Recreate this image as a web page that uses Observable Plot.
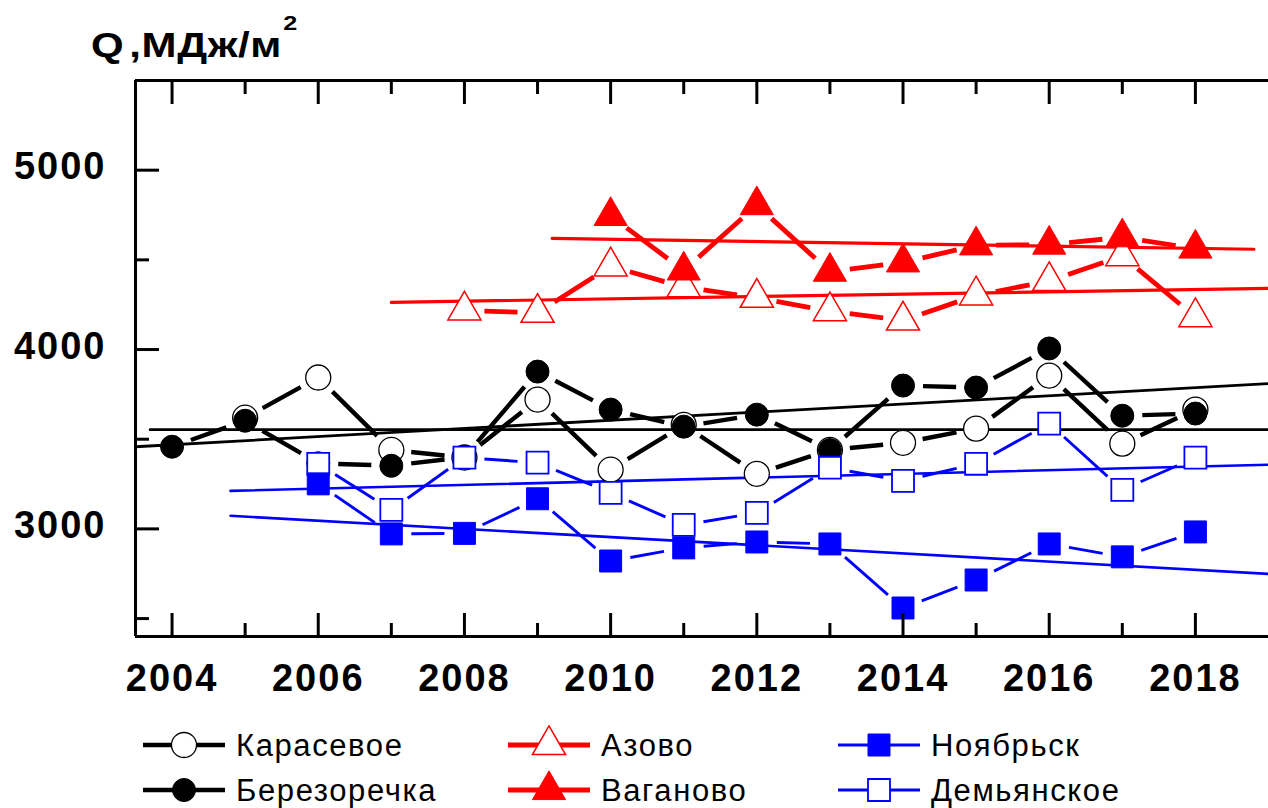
<!DOCTYPE html>
<html>
<head>
<meta charset="utf-8">
<script src="https://cdn.jsdelivr.net/npm/d3@7"></script>
<script src="https://cdn.jsdelivr.net/npm/@observablehq/plot@0.6"></script>
<style>
  html, body { margin: 0; padding: 0; background: #fff; }
  #wrap { width: 1268px; height: 808px; overflow: hidden; font-family: "Liberation Sans", Arial, sans-serif; color: #000; }
  #title { position: relative; height: 75px; }
  #title .t { position: absolute; left: 91px; top: 25px; font-size: 35px; font-weight: bold; line-height: normal;
              transform: scaleX(1.2); transform-origin: left center; white-space: nowrap; letter-spacing: 0.5px; word-spacing: -6px; }
  #title .t .sup { font-size: 21px; position: relative; top: -27px; margin-left: 1px; }
  #plot { height: 631px; }
  #plot svg { display: block; }
  #legend { position: relative; height: 102px; }
  #legend .item { position: absolute; display: flex; align-items: center; height: 40px; }
  #legend .item svg { display: block; }
  #legend .item span { font-size: 31px; letter-spacing: 1.6px; margin-left: 11px; white-space: nowrap; line-height: 1; }
</style>
</head>
<body>
<div id="wrap">
  <div id="title"><div class="t">Q ,МДж/м<span class="sup">2</span></div></div>
  <div id="plot"></div>
  <div id="legend"></div>
</div>
<script>
// ---------------- data ----------------
const karasevoeYears  = [2005,2006,2007,2008,2009,2010,2011,2012,2013,2014,2015,2016,2017,2018];
const karasevoeValues = [3620,3844,3440,3398,3721,3330,3580,3307,3440,3480,3559,3855,3475,3665];

const berezYears  = [2004,2005,2006,2007,2008,2009,2010,2011,2012,2013,2014,2015,2016,2017,2018];
const berezValues = [3458,3603,3366,3352,3400,3877,3665,3570,3637,3440,3799,3788,4006,3631,3643];

const azovoYears  = [2008,2009,2010,2011,2012,2013,2014,2015,2016,2017,2018];
const azovoValues = [4218,4205,4464,4348,4289,4214,4162,4302,4382,4521,4181];

const vaganovoYears  = [2010,2011,2012,2013,2014,2015,2016,2017,2018];
const vaganovoValues = [4745,4441,4805,4434,4486,4581,4585,4626,4563];

const noyabrskYears  = [2006,2007,2008,2009,2010,2011,2012,2013,2014,2015,2016,2017,2018];
const noyabrskValues = [3251,2972,2975,3168,2821,2894,2927,2916,2559,2715,2916,2844,2983];

const demyYears  = [2006,2007,2008,2009,2010,2011,2012,2013,2014,2015,2016,2017,2018];
const demyValues = [3363,3106,3397,3369,3201,3022,3089,3341,3268,3363,3587,3218,3397];

// linear trend lines: [start, end] x and y
const karasevoeTrendX = [2003.7, 2019];  const karasevoeTrendY = [3553, 3553];
const berezTrendX     = [2003.5, 2019];  const berezTrendY     = [3458, 3810];
const azovoTrendX     = [2007.0, 2019];  const azovoTrendY     = [4263, 4341];
const vaganovoTrendX  = [2009.2, 2018.8];const vaganovoTrendY  = [4620, 4559];
const noyabrskTrendX  = [2004.8, 2019];  const noyabrskTrendY  = [3073, 2749];
const demyTrendX      = [2004.8, 2019];  const demyTrendY      = [3212, 3358];

// axes
const xDomain = [2003.5, 2019];
const yDomain = [2400, 5500];
const xMajorTicks = [2004,2006,2008,2010,2012,2014,2016,2018];
const xMinorTicks = [2005,2007,2009,2011,2013,2015,2017];
const yMajorTicks = [3000,4000,5000];
const yMinorTicks = [2500,3500,4500];

// ---------------- series definitions ----------------
const series = [
  {name:"Карасевое",  years:karasevoeYears, values:karasevoeValues, tx:karasevoeTrendX, ty:karasevoeTrendY,
   color:"#000000", symbol:"circle",   fill:"#ffffff", r:12.5, sw:1.3, lw:4.4, tw:2.8},
  {name:"Березоречка",years:berezYears,     values:berezValues,     tx:berezTrendX,     ty:berezTrendY,
   color:"#000000", symbol:"circle",   fill:"#000000", r:11.5, sw:1.0, lw:4.4, tw:2.8},
  {name:"Азово",      years:azovoYears,     values:azovoValues,     tx:azovoTrendX,     ty:azovoTrendY,
   color:"#ff0000", symbol:"triangle", fill:"#ffffff", r:12.3, sw:1.5, lw:4.8, tw:3.2},
  {name:"Ваганово",   years:vaganovoYears,  values:vaganovoValues,  tx:vaganovoTrendX,  ty:vaganovoTrendY,
   color:"#ff0000", symbol:"triangle", fill:"#ff0000", r:12.3, sw:1.0, lw:4.8, tw:3.2},
  {name:"Демьянское", years:demyYears,      values:demyValues,      tx:demyTrendX,      ty:demyTrendY,
   color:"#0000ff", symbol:"square",   fill:"#ffffff", r:12.4, sw:1.8, lw:2.9, tw:2.6},
  {name:"Ноябрьск",   years:noyabrskYears,  values:noyabrskValues,  tx:noyabrskTrendX,  ty:noyabrskTrendY,
   color:"#0000ff", symbol:"square",   fill:"#0000ff", r:12.4, sw:1.0, lw:2.9, tw:2.6},
];

const pointsOf = s => s.years.map((x, i) => ({x, y: s.values[i]}));
const segmentsOf = s => s.years.slice(1).map((x, i) => ({x1: s.years[i], y1: s.values[i], x2: x, y2: s.values[i + 1]}));
const trendOf = s => s.tx.map((x, i) => ({x, y: s.ty[i]}));

const layout = {
  width: 1268,
  height: 631,
  marginLeft: 135,
  marginRight: 0,
  marginTop: 5,
  marginBottom: 70,
  x: {domain: xDomain},
  y: {domain: yDomain},
  style: {fontFamily: "'Liberation Sans', Arial, sans-serif", background: "#fff", color: "#000", overflow: "visible"}
};

function frameMarks() {
  const m = [];
  m.push(Plot.ruleX([xDomain[0]], {stroke:"#000", strokeWidth:3}));
  m.push(Plot.ruleY([yDomain[0]], {stroke:"#000", strokeWidth:3}));
  m.push(Plot.ruleY([yDomain[1]], {stroke:"#000", strokeWidth:3}));
  const tickStyle = {strokeWidth:3, fill:null, label:null};
  m.push(Plot.axisX(xMajorTicks, {anchor:"bottom", tickSize:-23, ...tickStyle}));
  m.push(Plot.axisX(xMinorTicks, {anchor:"bottom", tickSize:-13, ...tickStyle}));
  m.push(Plot.axisX(xMajorTicks, {anchor:"top", tickSize:-23, ...tickStyle}));
  m.push(Plot.axisX(xMinorTicks, {anchor:"top", tickSize:-13, ...tickStyle}));
  m.push(Plot.axisY(yMajorTicks, {anchor:"left", tickSize:-24, ...tickStyle}));
  m.push(Plot.axisY(yMinorTicks, {anchor:"left", tickSize:-14, ...tickStyle}));
  const labelStyle = {tickSize:0, fontSize:38, fontWeight:"bold", fill:"#000", label:null, tickFormat: d => String(d)};
  m.push(Plot.axisX(xMajorTicks, {anchor:"bottom", tickPadding:28, ...labelStyle}));
  m.push(Plot.axisY(yMajorTicks, {anchor:"left", tickPadding:29, dy:-3, ...labelStyle}));
  return m;
}

// first pass: obtain the plot's own scales
const probe = Plot.plot({...layout, marks: frameMarks()});
const sx = probe.scale("x"), sy = probe.scale("y");

// connecting segments are cut short near each symbol (Origin-style "gap" line)
const GAP = 20;
function gappedSegments(s) {
  const out = [];
  for (const d of segmentsOf(s)) {
    const px1 = sx.apply(d.x1), py1 = sy.apply(d.y1), px2 = sx.apply(d.x2), py2 = sy.apply(d.y2);
    const L = Math.hypot(px2 - px1, py2 - py1);
    if (L <= 2 * GAP + 2) continue;
    const ux = (px2 - px1) / L, uy = (py2 - py1) / L;
    out.push({
      x1: sx.invert(px1 + ux * GAP), y1: sy.invert(py1 + uy * GAP),
      x2: sx.invert(px2 - ux * GAP), y2: sy.invert(py2 - uy * GAP)
    });
  }
  return out;
}

const marks = [];
for (const s of series) {
  marks.push(Plot.line(trendOf(s), {x:"x", y:"y", stroke:s.color, strokeWidth:s.tw}));
}
for (const s of series) {
  marks.push(Plot.link(gappedSegments(s), {x1:"x1", y1:"y1", x2:"x2", y2:"y2", stroke:s.color, strokeWidth:s.lw, strokeLinecap:"butt"}));
}
for (const s of series) {
  marks.push(Plot.dot(pointsOf(s), {x:"x", y:"y", symbol:s.symbol, r:s.r, fill:s.fill, stroke:s.color, strokeWidth:s.sw}));
}
marks.push(...frameMarks());

const chart = Plot.plot({...layout, marks});
document.getElementById("plot").appendChild(chart);
chart.querySelectorAll('g[aria-label="x-axis tick label"], g[aria-label="y-axis tick label"]').forEach(g => {
  g.style.letterSpacing = "2px";
});

// ---------------- legend ----------------
const legendLayout = [
  {name:"Карасевое",   left:143, top:19},
  {name:"Березоречка", left:143, top:64},
  {name:"Азово",       left:508, top:19},
  {name:"Ваганово",    left:508, top:64},
  {name:"Ноябрьск",    left:838, top:19},
  {name:"Демьянское",  left:838, top:64},
];
const legend = document.getElementById("legend");
const symbolTypes = {circle: d3.symbolCircle, triangle: d3.symbolTriangle, square: d3.symbolSquare};
for (const item of legendLayout) {
  const s = series.find(d => d.name === item.name);
  const div = document.createElement("div");
  div.className = "item";
  div.style.left = item.left + "px";
  div.style.top = item.top + "px";
  const w = 82, h = 40, cx = 41, cy = 20;
  const path = d3.symbol(symbolTypes[s.symbol], s.r * s.r * Math.PI)();
  div.innerHTML =
    `<svg width="${w}" height="${h}" viewBox="0 0 ${w} ${h}">` +
    `<line x1="0" y1="${cy}" x2="${w}" y2="${cy}" stroke="${s.color}" stroke-width="${s.lw}"/>` +
    `<path d="${path}" transform="translate(${cx},${cy})" fill="${s.fill}" stroke="${s.color}" stroke-width="${s.sw}"/>` +
    `</svg><span>${s.name}</span>`;
  legend.appendChild(div);
}
</script>
</body>
</html>
